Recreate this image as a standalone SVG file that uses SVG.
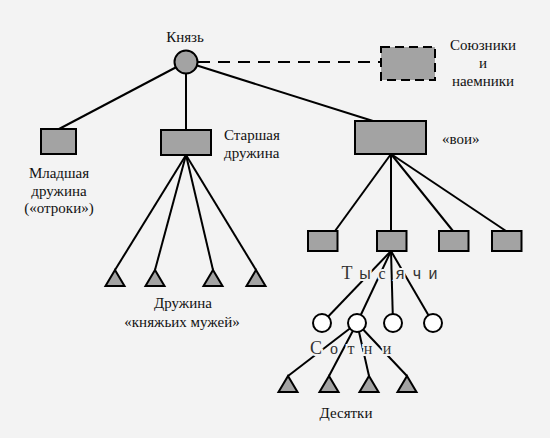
<svg xmlns="http://www.w3.org/2000/svg" width="550" height="438" viewBox="0 0 550 438">
<style>
.ln{stroke:#000;stroke-width:2;fill:none}
.dash{stroke:#000;stroke-width:2;fill:none;stroke-dasharray:12,8}
.box{fill:#a3a3a3;stroke:#000;stroke-width:2}
.dbox{fill:#a3a3a3;stroke:#000;stroke-width:2;stroke-dasharray:9,5}
.wc{fill:#fff;stroke:#000;stroke-width:2}
.gc{fill:#a3a3a3;stroke:#000;stroke-width:2}
.tri{fill:#a3a3a3;stroke:#000;stroke-width:2;stroke-linejoin:miter}
.t{font-size:15px;fill:#111}
.mid{text-anchor:middle}
.halo{paint-order:stroke;stroke:#f3f3f3;stroke-width:4px;font-size:16px;fill:#333}
</style>
<rect width="550" height="438" fill="#f3f3f3"/>
<g id="connectors">
<line class="ln" x1="186" y1="62" x2="59" y2="129"/>
<line class="ln" x1="186" y1="62" x2="186" y2="130"/>
<line class="ln" x1="186" y1="62" x2="373" y2="121"/>
<line class="dash" x1="198" y1="62" x2="381" y2="62"/>
<line class="ln" x1="186" y1="155" x2="115" y2="270"/>
<line class="ln" x1="186" y1="155" x2="155" y2="270"/>
<line class="ln" x1="186" y1="155" x2="213" y2="270"/>
<line class="ln" x1="186" y1="155" x2="256" y2="270"/>
<line class="ln" x1="391" y1="154" x2="335" y2="231"/>
<line class="ln" x1="391" y1="154" x2="391" y2="231"/>
<line class="ln" x1="391" y1="154" x2="453" y2="231"/>
<line class="ln" x1="391" y1="154" x2="506" y2="231"/>
<line class="ln" x1="391" y1="251" x2="322" y2="323"/>
<line class="ln" x1="391" y1="251" x2="357" y2="323"/>
<line class="ln" x1="391" y1="251" x2="393" y2="323"/>
<line class="ln" x1="391" y1="251" x2="433" y2="323"/>
<line class="ln" x1="357" y1="323" x2="288" y2="376"/>
<line class="ln" x1="357" y1="323" x2="329" y2="376"/>
<line class="ln" x1="357" y1="323" x2="369" y2="376"/>
<line class="ln" x1="357" y1="323" x2="407" y2="376"/>
</g>
<g font-family="'Liberation Serif', 'Times New Roman', serif">
<g id="knyaz">
<circle class="gc" cx="186" cy="62" r="11.5"/>
<text class="t mid" x="185" y="42">Князь</text>
</g>
<g id="soyuzniki">
<rect class="dbox" x="381" y="47" width="54" height="33"/>
<text class="t mid" x="483" y="50">Союзники</text>
<text class="t mid" x="483" y="68">и</text>
<text class="t mid" x="483" y="86">наемники</text>
</g>
<g id="mladshaya">
<rect class="box" x="41" y="129" width="35" height="25"/>
<text class="t mid" x="59" y="178">Младшая</text>
<text class="t mid" x="59" y="196">дружина</text>
<text class="t mid" x="59" y="213">(«отроки»)</text>
</g>
<g id="starshaya">
<rect class="box" x="161" y="130" width="50" height="25"/>
<text class="t" x="224" y="140">Старшая</text>
<text class="t" x="224" y="158">дружина</text>
</g>
<g id="voi">
<rect class="box" x="355" y="121" width="71" height="33"/>
<text class="t" x="442" y="144">«вои»</text>
</g>
<g id="muzhi">
<polygon class="tri" points="115,270 124.5,286 105.5,286"/>
<polygon class="tri" points="155,270 164.5,286 145.5,286"/>
<polygon class="tri" points="213,270 222.5,286 203.5,286"/>
<polygon class="tri" points="256,270 265.5,286 246.5,286"/>
<text class="t mid" x="183" y="308">Дружина</text>
<text class="t mid" x="182" y="327">«княжьих мужей»</text>
</g>
<g id="tysyachi">
<rect class="box" x="308" y="231" width="29.5" height="20"/>
<rect class="box" x="377" y="231" width="29.5" height="20"/>
<rect class="box" x="439" y="231" width="29.5" height="20"/>
<rect class="box" x="492" y="231" width="29.5" height="20"/>
<text class="halo mid" y="279"><tspan x="347" font-size="18">Т</tspan><tspan x="365" font-family="'Liberation Sans', Arial, sans-serif">ы</tspan><tspan x="382">с</tspan><tspan x="400" font-family="'Liberation Sans', Arial, sans-serif">я</tspan><tspan x="417" font-family="'Liberation Sans', Arial, sans-serif">ч</tspan><tspan x="433" font-family="'Liberation Sans', Arial, sans-serif">и</tspan></text>
</g>
<g id="sotni">
<circle class="wc" cx="322" cy="323" r="9"/>
<circle class="wc" cx="357" cy="323" r="9"/>
<circle class="wc" cx="393" cy="323" r="9"/>
<circle class="wc" cx="433" cy="323" r="9"/>
<text class="halo mid" y="354"><tspan x="316" font-size="18">С</tspan><tspan x="334">о</tspan><tspan x="351">т</tspan><tspan x="368">н</tspan><tspan x="387">и</tspan></text>
</g>
<g id="desyatki">
<polygon class="tri" points="288,376 297.5,392 278.5,392"/>
<polygon class="tri" points="329,376 338.5,392 319.5,392"/>
<polygon class="tri" points="369,376 378.5,392 359.5,392"/>
<polygon class="tri" points="407,376 416.5,392 397.5,392"/>
<text class="t mid" x="346" y="418">Десятки</text>
</g>
</g>
</svg>
